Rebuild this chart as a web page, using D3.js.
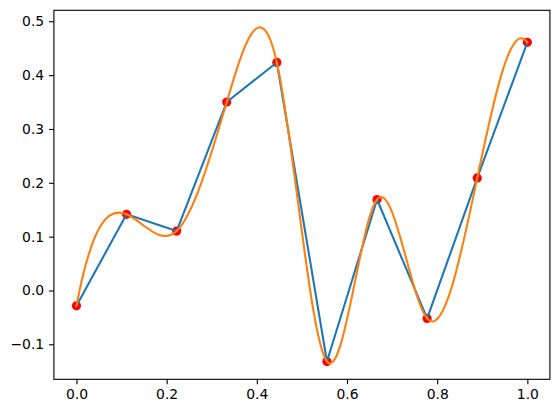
<!DOCTYPE html>
<html><head><meta charset="utf-8">
<script src="https://cdn.jsdelivr.net/npm/d3@7"></script>
<style>body{margin:0;background:#fff}svg{display:block}text{font-family:"DejaVu Sans",sans-serif;font-size:13.9px;fill:#000}</style>
</head><body>
<script>
const xValues = [0, 1/9, 2/9, 3/9, 4/9, 5/9, 6/9, 7/9, 8/9, 1];
const yValues = [-0.0285, 0.1415, 0.1104, 0.350, 0.4235, -0.132, 0.169, -0.052, 0.209, 0.461];
const xTicks = [0, 0.2, 0.4, 0.6, 0.8, 1.0];
const yTicks = [-0.1, 0, 0.1, 0.2, 0.3, 0.4, 0.5];

const W = 559, H = 413;
const L = 53.9, R = 549.9, T = 10.3, B = 379.3;
const svg = d3.select("body").append("svg").attr("width", W).attr("height", H);
const x = d3.scaleLinear().domain([-0.05, 1.05]).range([L, R]);
const y = d3.scaleLinear().domain([-0.165, 0.5204]).range([B, T]);
const pts = xValues.map((v, i) => [v, yValues[i]]);
const fmt = d => d3.format(".1f")(d).replace("-", "\u2212");

// not-a-knot cubic spline second derivatives
function splineM(xs, ys) {
  const n = xs.length;
  const A = Array.from({length: n}, () => new Array(n + 1).fill(0));
  for (let i = 1; i < n - 1; i++) {
    const h0 = xs[i] - xs[i - 1], h1 = xs[i + 1] - xs[i];
    A[i][i - 1] = h0; A[i][i] = 2 * (h0 + h1); A[i][i + 1] = h1;
    A[i][n] = 6 * ((ys[i + 1] - ys[i]) / h1 - (ys[i] - ys[i - 1]) / h0);
  }
  let h0 = xs[1] - xs[0], h1 = xs[2] - xs[1];
  A[0][0] = h1; A[0][1] = -(h0 + h1); A[0][2] = h0;
  h0 = xs[n - 2] - xs[n - 3]; h1 = xs[n - 1] - xs[n - 2];
  A[n - 1][n - 3] = h1; A[n - 1][n - 2] = -(h0 + h1); A[n - 1][n - 1] = h0;
  for (let c = 0; c < n; c++) {
    let p = c;
    for (let r = c + 1; r < n; r++) if (Math.abs(A[r][c]) > Math.abs(A[p][c])) p = r;
    [A[c], A[p]] = [A[p], A[c]];
    for (let r = 0; r < n; r++) {
      if (r === c) continue;
      const f = A[r][c] / A[c][c];
      for (let k = c; k <= n; k++) A[r][k] -= f * A[c][k];
    }
  }
  return A.map((row, i) => row[n] / row[i]);
}
const M = splineM(xValues, yValues);
const sp = d3.path();
sp.moveTo(x(pts[0][0]), y(pts[0][1]));
for (let i = 0; i < pts.length - 1; i++) {
  const [x0, y0] = pts[i], [x1, y1] = pts[i + 1];
  const h = x1 - x0, d = (y1 - y0) / h;
  const s0 = d - h * (2 * M[i] + M[i + 1]) / 6;
  const s1 = d + h * (M[i] + 2 * M[i + 1]) / 6;
  sp.bezierCurveTo(x(x0 + h / 3), y(y0 + s0 * h / 3), x(x1 - h / 3), y(y1 - s1 * h / 3), x(x1), y(y1));
}

// scatter (zorder below lines)
svg.append("g").selectAll("circle").data(pts).join("circle")
  .attr("cx", d => x(d[0])).attr("cy", d => y(d[1])).attr("r", 4.6).attr("fill", "#ff0000");

const lin = d3.line().x(d => x(d[0])).y(d => y(d[1]));
svg.append("path").attr("d", lin(pts)).attr("fill", "none").attr("stroke", "#1f77b4")
  .attr("stroke-width", 2.08).attr("stroke-linecap", "square").attr("stroke-linejoin", "round");
svg.append("path").attr("d", sp.toString()).attr("fill", "none").attr("stroke", "#ff7f0e")
  .attr("stroke-width", 2.08).attr("stroke-linecap", "square").attr("stroke-linejoin", "round");

// axes
const xa = svg.append("g").attr("transform", `translate(0,${B})`)
  .call(d3.axisBottom(x).tickValues(xTicks).tickFormat(fmt).tickSize(4.86).tickPadding(4.86));
const ya = svg.append("g").attr("transform", `translate(${L},0)`)
  .call(d3.axisLeft(y).tickValues(yTicks).tickFormat(fmt).tickSize(4.86).tickPadding(4.86));
[xa, ya].forEach(g => {
  g.select(".domain").remove();
  g.selectAll(".tick line").attr("stroke", "#000").attr("stroke-width", 1.11);
  g.selectAll("text").attr("font-family", "DejaVu Sans").attr("font-size", "13.9px").attr("fill", "#000");
});
svg.append("rect").attr("x", L).attr("y", T).attr("width", R - L).attr("height", B - T)
  .attr("fill", "none").attr("stroke", "#000").attr("stroke-width", 1.11);
</script>
</body></html>
